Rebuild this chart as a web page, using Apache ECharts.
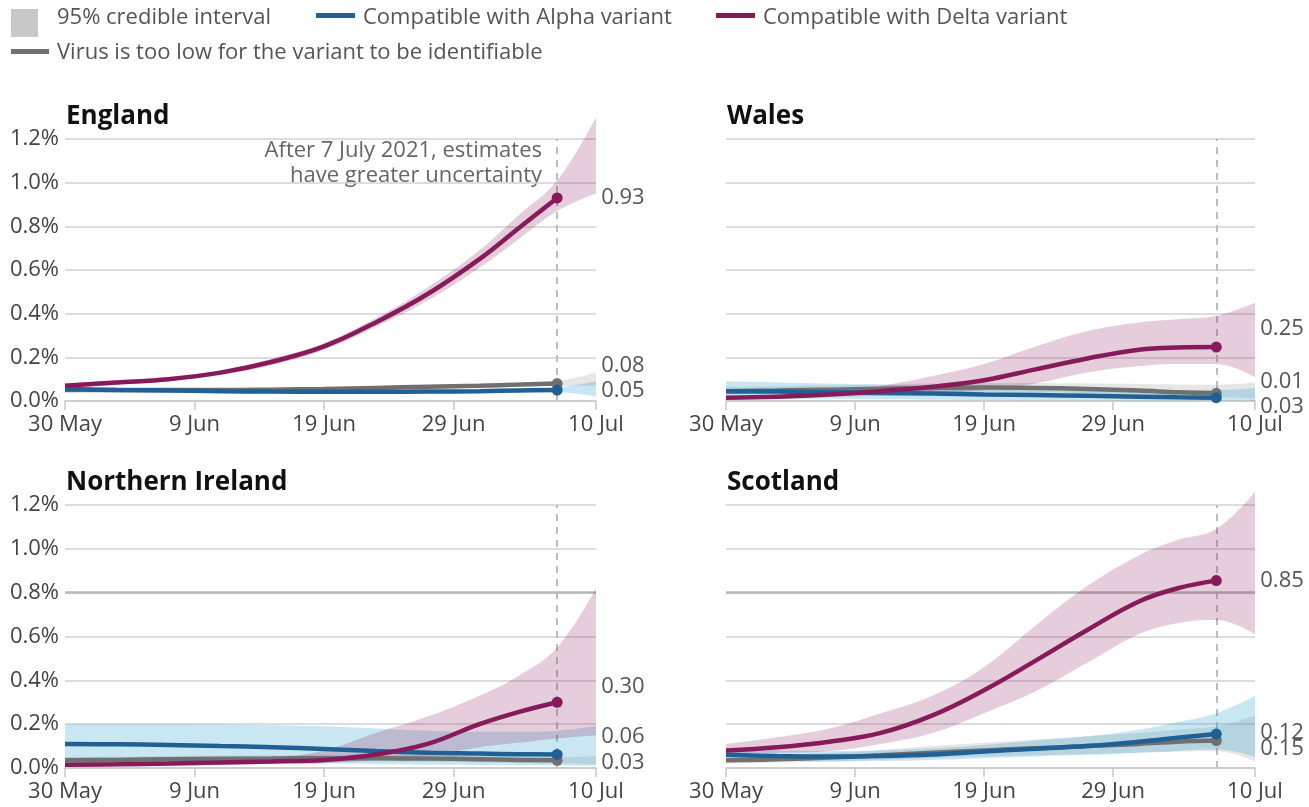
<!DOCTYPE html>
<html>
<head>
<meta charset="utf-8">
<title>Delta and Alpha compatible positivity</title>
<script src="https://cdn.jsdelivr.net/npm/echarts@6/dist/echarts.min.js"></script>
<style>
  html, body { margin: 0; padding: 0; background: #fff; }
  #chart { width: 1309px; height: 807px; }
</style>
</head>
<body>
<div id="chart"></div>
<script>
// sample dates (30 May .. 10 Jul 2021); lines stop at 7 Jul, bands run to 10 Jul
var dates = ['2021-05-30', '2021-06-03', '2021-06-07', '2021-06-11', '2021-06-15', '2021-06-19',
             '2021-06-23', '2021-06-27', '2021-07-01', '2021-07-04', '2021-07-07', '2021-07-10']
var tickDates = ['2021-05-30', '2021-06-09', '2021-06-19', '2021-06-29', '2021-07-10']
var tickLabels = ['30 May', '9 Jun', '19 Jun', '29 Jun', '10 Jul']
var cutoffDate = '2021-07-07'

// England
var engDelta   = [0.07, 0.085, 0.10, 0.13, 0.18, 0.25, 0.36, 0.49, 0.65, 0.79, 0.93]
var engDeltaLo = [0.06, 0.075, 0.09, 0.12, 0.165, 0.235, 0.34, 0.46, 0.61, 0.74, 0.87, 0.95]
var engDeltaHi = [0.08, 0.095, 0.11, 0.14, 0.195, 0.265, 0.38, 0.52, 0.69, 0.85, 1.01, 1.30]
var engAlpha   = [0.055, 0.05, 0.048, 0.045, 0.043, 0.042, 0.042, 0.043, 0.045, 0.048, 0.05]
var engAlphaLo = [0.045, 0.042, 0.04, 0.038, 0.036, 0.035, 0.035, 0.036, 0.037, 0.039, 0.04, 0.02]
var engAlphaHi = [0.065, 0.058, 0.056, 0.052, 0.05, 0.05, 0.05, 0.051, 0.053, 0.057, 0.062, 0.09]
var engGrey    = [0.05, 0.05, 0.05, 0.05, 0.052, 0.055, 0.06, 0.065, 0.07, 0.075, 0.08]
var engGreyLo  = [0.043, 0.043, 0.043, 0.044, 0.046, 0.049, 0.053, 0.057, 0.061, 0.065, 0.07, 0.07]
var engGreyHi  = [0.057, 0.057, 0.057, 0.057, 0.058, 0.061, 0.067, 0.073, 0.08, 0.086, 0.092, 0.13]

// Wales
var walDelta   = [0.015, 0.02, 0.03, 0.045, 0.065, 0.095, 0.145, 0.195, 0.235, 0.245, 0.247]
var walDeltaLo = [0.01, 0.012, 0.018, 0.025, 0.032, 0.05, 0.08, 0.13, 0.16, 0.17, 0.17, 0.11]
var walDeltaHi = [0.02, 0.03, 0.045, 0.07, 0.115, 0.17, 0.25, 0.32, 0.36, 0.375, 0.39, 0.45]
var walAlpha   = [0.045, 0.043, 0.04, 0.037, 0.034, 0.03, 0.027, 0.024, 0.02, 0.017, 0.015]
var walAlphaLo = [0.01, 0.01, 0.01, 0.008, 0.006, 0.005, 0.004, 0.003, 0.002, 0.002, 0.002, 0.0]
var walAlphaHi = [0.09, 0.085, 0.08, 0.075, 0.07, 0.065, 0.06, 0.056, 0.052, 0.05, 0.05, 0.06]
var walGrey    = [0.045, 0.048, 0.052, 0.056, 0.06, 0.062, 0.06, 0.055, 0.048, 0.04, 0.035]
var walGreyLo  = [0.03, 0.032, 0.035, 0.038, 0.04, 0.042, 0.04, 0.035, 0.028, 0.022, 0.018, 0.01]
var walGreyHi  = [0.065, 0.068, 0.072, 0.076, 0.08, 0.083, 0.082, 0.08, 0.078, 0.076, 0.075, 0.085]

// Northern Ireland
var niDelta   = [0.015, 0.017, 0.02, 0.025, 0.03, 0.037, 0.062, 0.11, 0.20, 0.255, 0.30]
var niDeltaLo = [0.005, 0.007, 0.01, 0.014, 0.018, 0.022, 0.035, 0.055, 0.095, 0.115, 0.135, 0.15]
var niDeltaHi = [0.025, 0.027, 0.03, 0.034, 0.045, 0.08, 0.16, 0.235, 0.33, 0.42, 0.55, 0.82]
var niAlpha   = [0.11, 0.108, 0.105, 0.10, 0.095, 0.087, 0.078, 0.07, 0.066, 0.063, 0.062]
var niAlphaLo = [0.03, 0.03, 0.028, 0.026, 0.024, 0.02, 0.017, 0.015, 0.013, 0.012, 0.011, 0.01]
var niAlphaHi = [0.2, 0.2, 0.2, 0.198, 0.195, 0.19, 0.18, 0.17, 0.165, 0.165, 0.17, 0.19]
var niGrey    = [0.035, 0.037, 0.04, 0.042, 0.043, 0.045, 0.045, 0.043, 0.04, 0.037, 0.035]
var niGreyLo  = [0.02, 0.022, 0.025, 0.027, 0.028, 0.03, 0.03, 0.028, 0.025, 0.022, 0.02, 0.015]
var niGreyHi  = [0.05, 0.052, 0.055, 0.057, 0.058, 0.06, 0.06, 0.058, 0.055, 0.053, 0.05, 0.055]

// Scotland
var scoDelta   = [0.08, 0.095, 0.12, 0.16, 0.24, 0.355, 0.49, 0.63, 0.76, 0.82, 0.855]
var scoDeltaLo = [0.068, 0.07, 0.078, 0.11, 0.16, 0.25, 0.35, 0.48, 0.61, 0.66, 0.675, 0.61]
var scoDeltaHi = [0.11, 0.14, 0.18, 0.25, 0.33, 0.46, 0.65, 0.83, 0.97, 1.04, 1.09, 1.26]
var scoAlpha   = [0.06, 0.055, 0.052, 0.055, 0.062, 0.075, 0.088, 0.10, 0.12, 0.138, 0.155]
var scoAlphaLo = [0.035, 0.032, 0.03, 0.032, 0.037, 0.045, 0.053, 0.06, 0.07, 0.078, 0.085, 0.05]
var scoAlphaHi = [0.085, 0.08, 0.077, 0.08, 0.09, 0.105, 0.125, 0.145, 0.175, 0.21, 0.25, 0.33]
var scoGrey    = [0.035, 0.04, 0.048, 0.058, 0.07, 0.08, 0.09, 0.10, 0.11, 0.12, 0.125]
var scoGreyLo  = [0.02, 0.025, 0.03, 0.038, 0.045, 0.052, 0.058, 0.064, 0.07, 0.074, 0.076, 0.03]
var scoGreyHi  = [0.05, 0.057, 0.068, 0.082, 0.10, 0.115, 0.13, 0.145, 0.16, 0.175, 0.19, 0.24]

// end-of-line labels as printed on the chart
var engLabels = {delta: '0.93', grey: '0.08', alpha: '0.05'}
var walLabels = {delta: '0.25', grey: '0.01', alpha: '0.03'}
var niLabels  = {delta: '0.30', grey: '0.03', alpha: '0.06'}
var scoLabels = {delta: '0.85', grey: '0.15', alpha: '0.12'}

var DELTA = '#871a5b', ALPHA = '#206095', GREY = '#707070'
var FONT = 'Open Sans'
var FS = 22

// days since the first date, used as the x value
function day(s) {
  var p = s.split('-').map(Number), q = dates[0].split('-').map(Number)
  return Math.round((Date.UTC(p[0], p[1] - 1, p[2]) - Date.UTC(q[0], q[1] - 1, q[2])) / 86400000)
}
var tickDays = tickDates.map(day)
var lastDay = day(dates[dates.length - 1])

// rows are [value, day] so that stacking runs on the value column
function rows(vals) {
  return vals.map(function (v, i) { return [v, day(dates[i])] })
}

var regions = [
  {name: 'England', grid: {left: 65, top: 139, width: 531, height: 262}, yLabels: true, line08: false,
   delta: [engDelta, engDeltaLo, engDeltaHi], alpha: [engAlpha, engAlphaLo, engAlphaHi], grey: [engGrey, engGreyLo, engGreyHi],
   labels: engLabels, offs: {delta: 0, grey: -18, alpha: 1}},
  {name: 'Wales', grid: {left: 726, top: 139, width: 529, height: 262}, yLabels: false, line08: false,
   delta: [walDelta, walDeltaLo, walDeltaHi], alpha: [walAlpha, walAlphaLo, walAlphaHi], grey: [walGrey, walGreyLo, walGreyHi],
   labels: walLabels, offs: {delta: -18, grey: -12, alpha: 9}},
  {name: 'Northern Ireland', grid: {left: 65, top: 505, width: 531, height: 263}, yLabels: true, line08: true,
   delta: [niDelta, niDeltaLo, niDeltaHi], alpha: [niAlpha, niAlphaLo, niAlphaHi], grey: [niGrey, niGreyLo, niGreyHi],
   labels: niLabels, offs: {delta: -16, grey: 2, alpha: -18}},
  {name: 'Scotland', grid: {left: 726, top: 505, width: 529, height: 263}, yLabels: false, line08: true,
   delta: [scoDelta, scoDeltaLo, scoDeltaHi], alpha: [scoAlpha, scoAlphaLo, scoAlphaHi], grey: [scoGrey, scoGreyLo, scoGreyHi],
   labels: scoLabels, offs: {delta: 0, grey: 8, alpha: -1}}
]

var grids = [], xAxes = [], yAxes = [], titles = [], series = []

regions.forEach(function (r, gi) {
  grids.push(Object.assign({outerBoundsMode: 'none', containLabel: false}, r.grid))
  titles.push({
    text: r.name, left: r.grid.left - 4, top: r.grid.top - 40,
    textStyle: {fontFamily: FONT, fontSize: 26, fontWeight: 'bold', color: '#111'}
  })
  xAxes.push({
    type: 'value', gridIndex: gi, min: 0, max: lastDay,
    axisLine: {show: true, lineStyle: {color: '#c8c8c8', width: 1.5}},
    axisTick: {show: true, length: 9, customValues: tickDays, lineStyle: {color: '#c8c8c8', width: 1.5}},
    splitLine: {show: false},
    axisLabel: {
      customValues: tickDays, margin: 13, color: '#444', fontFamily: FONT, fontSize: FS,
      formatter: function (v) {
        var k = tickDays.indexOf(v)
        return k >= 0 ? tickLabels[k] : ''
      }
    }
  })
  yAxes.push({
    type: 'value', gridIndex: gi, min: 0, max: 1.2, interval: 0.2,
    axisLine: {show: false}, axisTick: {show: false},
    splitLine: {show: true, lineStyle: {color: '#d2d2d2', width: 1.5}},
    axisLabel: {
      show: r.yLabels, margin: 6, color: '#444', fontFamily: FONT, fontSize: FS,
      formatter: function (v) { return v.toFixed(1) + '%' }
    }
  })

  var bands = [
    {key: 'grey', arr: r.grey, color: 'rgba(128,128,128,0.2)'},
    {key: 'alpha', arr: r.alpha, color: 'rgba(39,160,204,0.25)'},
    {key: 'delta', arr: r.delta, color: 'rgba(137,28,92,0.22)'}
  ]
  bands.forEach(function (b) {
    var lo = b.arr[1], hi = b.arr[2]
    var stackId = 'band-' + gi + '-' + b.key
    series.push({
      type: 'line', xAxisIndex: gi, yAxisIndex: gi, stack: stackId, smooth: 0.4,
      encode: {x: 1, y: 0},
      symbol: 'none', clip: false, silent: true,
      lineStyle: {opacity: 0}, data: rows(lo), z: 1
    })
    series.push({
      type: 'line', xAxisIndex: gi, yAxisIndex: gi, stack: stackId, smooth: 0.4,
      encode: {x: 1, y: 0},
      symbol: 'none', clip: false, silent: true,
      lineStyle: {opacity: 0}, areaStyle: {color: b.color, opacity: 1},
      data: rows(hi.map(function (h, i) { return h - lo[i] })), z: 1
    })
  })

  var lines = [
    {key: 'grey', vals: r.grey[0], color: GREY},
    {key: 'alpha', vals: r.alpha[0], color: ALPHA},
    {key: 'delta', vals: r.delta[0], color: DELTA}
  ]
  lines.forEach(function (l) {
    var n = l.vals.length
    var s = {
      type: 'line', xAxisIndex: gi, yAxisIndex: gi, smooth: 0.4, clip: false,
      encode: {x: 1, y: 0},
      symbol: 'circle',
      symbolSize: function (v, p) { return p.dataIndex === n - 1 ? 11 : 0 },
      showAllSymbol: true,
      itemStyle: {color: l.color},
      lineStyle: {color: l.color, width: 4.5},
      data: rows(l.vals), z: 3,
      endLabel: {
        show: true, distance: 44, offset: [0, r.offs[l.key]],
        formatter: r.labels[l.key], color: '#555', fontFamily: FONT, fontSize: FS
      }
    }
    if (l.key === 'delta') {
      var mlData = [{xAxis: day(cutoffDate), lineStyle: {color: '#bdbdbd', type: [7, 6], width: 2}}]
      if (r.line08) mlData.push({yAxis: 0.8, lineStyle: {color: '#b8b8b8', type: 'solid', width: 2.5}})
      s.markLine = {silent: true, symbol: 'none', label: {show: false}, data: mlData, z: 0}
    }
    series.push(s)
  })
})

var legendText = {fontFamily: FONT, fontSize: FS, fill: '#555', verticalAlign: 'middle'}
var graphic = [
  {type: 'rect', left: 11, top: 9, shape: {width: 27, height: 28}, style: {fill: '#c8c8c8'}},
  {type: 'text', x: 57, y: 18, style: Object.assign({text: '95% credible interval'}, legendText)},
  {type: 'rect', left: 316, top: 13, shape: {width: 39, height: 5}, style: {fill: ALPHA}},
  {type: 'text', x: 363, y: 18, style: Object.assign({text: 'Compatible with Alpha variant'}, legendText)},
  {type: 'rect', left: 716, top: 13, shape: {width: 39, height: 5}, style: {fill: DELTA}},
  {type: 'text', x: 763, y: 18, style: Object.assign({text: 'Compatible with Delta variant'}, legendText)},
  {type: 'rect', left: 11, top: 49, shape: {width: 38, height: 5}, style: {fill: GREY}},
  {type: 'text', x: 57, y: 53, style: Object.assign({text: 'Virus is too low for the variant to be identifiable'}, legendText)},
  {type: 'text', x: 542, y: 163, style: {
    text: 'After 7 July 2021, estimates\nhave greater uncertainty', align: 'right', verticalAlign: 'middle',
    lineHeight: 25, fontFamily: FONT, fontSize: FS, fill: '#666'
  }}
]

var myChart = echarts.init(document.getElementById('chart'))
myChart.setOption({
  animation: false,
  backgroundColor: '#fff',
  textStyle: {fontFamily: FONT},
  title: titles,
  grid: grids,
  xAxis: xAxes,
  yAxis: yAxes,
  series: series,
  graphic: graphic
})
</script>
</body>
</html>
